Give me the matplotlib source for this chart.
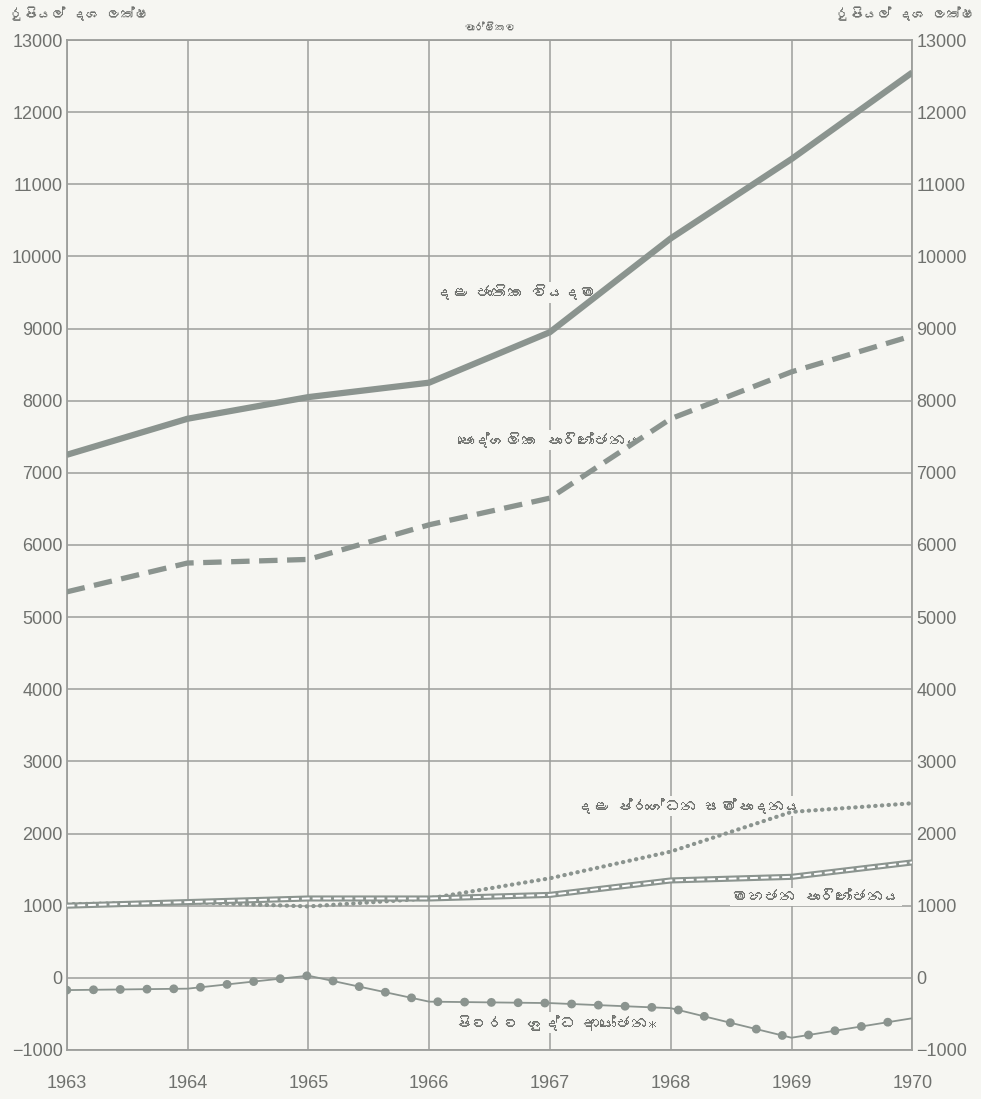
import matplotlib
matplotlib.use("Agg")
import matplotlib.pyplot as plt
from matplotlib import font_manager as fm
from matplotlib.ft2font import FT2Font

# ---- data (Rupees million) ----
years = [1963, 1964, 1965, 1966, 1967, 1968, 1969, 1970]
gross_national_expenditure = [7250, 7750, 8050, 8250, 8950, 10250, 11350, 12550]
private_consumption = [5350, 5750, 5800, 6280, 6650, 7750, 8400, 8900]
capital_formation = [1020, 1050, 990, 1100, 1380, 1750, 2300, 2420]
public_consumption = [1000, 1050, 1100, 1100, 1150, 1350, 1400, 1600]
net_foreign_investment = [-170, -150, 30, -330, -350, -420, -830, -560]

y_ticks = list(range(-1000, 13001, 1000))
unit_label = "රුපියල් දශ ලක්ෂ"
top_label = "වාර්ෂිකව"
lbl_gne = "දළ ජාතික වියදම"
lbl_pc = "පෞද්ගලික පාරිභෝජනය"
lbl_cf = "දළ ප්රාග්ධන සම්පාදනය"
lbl_pub = "මහජන පාරිභෝජනය"
lbl_nfi = "පිටරට ශුද්ධ ආයෝජන*"


def find_font(ch):
    names = []
    for f in fm.fontManager.ttflist:
        try:
            if ord(ch) in FT2Font(f.fname).get_charmap():
                names.append(f.name)
        except Exception:
            pass
    return names

sin_fonts = find_font("ර")
sin_family = ([sin_fonts[0]] if sin_fonts else []) + ["DejaVu Sans"]
num_family = ["Liberation Sans", "DejaVu Sans"]

LINE = "#8b948f"
GRID = "#9c9e9b"
TXT = "#6f716e"
BG = "#f6f6f2"

fig = plt.figure(figsize=(9.81, 10.99), dpi=100, facecolor=BG)
ax = fig.add_axes([0.068, 0.0446, 0.862, 0.919], facecolor=BG)

ax.set_xlim(1963, 1970)
ax.set_ylim(-1000, 13000)
ax.set_xticks(years)
ax.set_yticks(y_ticks)
ax.grid(True, color=GRID, linewidth=1.1)
for s in ax.spines.values():
    s.set_color(GRID)
    s.set_linewidth(1.3)
ax.tick_params(axis="both", length=0, colors=TXT, labelsize=13)
ax.tick_params(axis="x", pad=18)
ax.tick_params(axis="y", pad=3)
for lab in ax.get_xticklabels() + ax.get_yticklabels():
    lab.set_family(num_family)
ax.set_yticklabels(["\u22121000" if v < 0 else str(v) for v in y_ticks])

ax2 = ax.twinx()
ax2.set_ylim(ax.get_ylim())
ax2.set_yticks(y_ticks)
ax2.set_yticklabels(["\u22121000" if v < 0 else str(v) for v in y_ticks])
ax2.tick_params(axis="y", length=0, colors=TXT, labelsize=13, pad=3)
for lab in ax2.get_yticklabels():
    lab.set_family(num_family)
for s in ax2.spines.values():
    s.set_visible(False)

# lines
ax.plot(years, gross_national_expenditure, color=LINE, linewidth=4.5,
        solid_capstyle="butt", zorder=5)
ax.plot(years, private_consumption, color=LINE, linewidth=3.8,
        dashes=(3.5, 1.8), zorder=5)
ax.plot(years, capital_formation, color=LINE, linewidth=3.0,
        dashes=(0.1, 1.5), dash_capstyle="round", zorder=5)
ax.plot(years, public_consumption, color=LINE, linewidth=4.4, zorder=5)
ax.plot(years, public_consumption, color="white", linewidth=1.4,
        dashes=(4, 1.5), zorder=6)
# net foreign investment: thin line with a row of round beads
ax.plot(years, net_foreign_investment, color=LINE, linewidth=1.3, zorder=5)
ax.plot(years, net_foreign_investment, color=LINE, linewidth=6.4,
        dashes=(0.01, 3.0), dash_capstyle="round", zorder=5)

# labels
lkw = dict(family=sin_family, color=TXT, fontsize=11.5, ha="center",
           va="center", zorder=4,
           bbox=dict(facecolor=BG, edgecolor="none", pad=1.5))
ax.text(1966.72, 9500, lbl_gne, **lkw)
ax.text(1967.0, 7450, lbl_pc, **lkw)
ax.text(1968.15, 2380, lbl_cf, **lkw)
ax.text(1969.2, 1120, lbl_pub, **lkw)
ax.text(1967.05, -620, lbl_nfi, **lkw)

fig.text(10 / 981, 1 - 14 / 1099, unit_label, family=sin_family, color=TXT,
         fontsize=10, ha="left", va="center")
fig.text(975 / 981, 1 - 14 / 1099, unit_label, family=sin_family, color=TXT,
         fontsize=10, ha="right", va="center")
fig.text(490 / 981, 1 - 27 / 1099, top_label, family=sin_family, color=TXT,
         fontsize=7.5, ha="center", va="center")

fig.savefig("out.png", dpi=100, facecolor=BG)
